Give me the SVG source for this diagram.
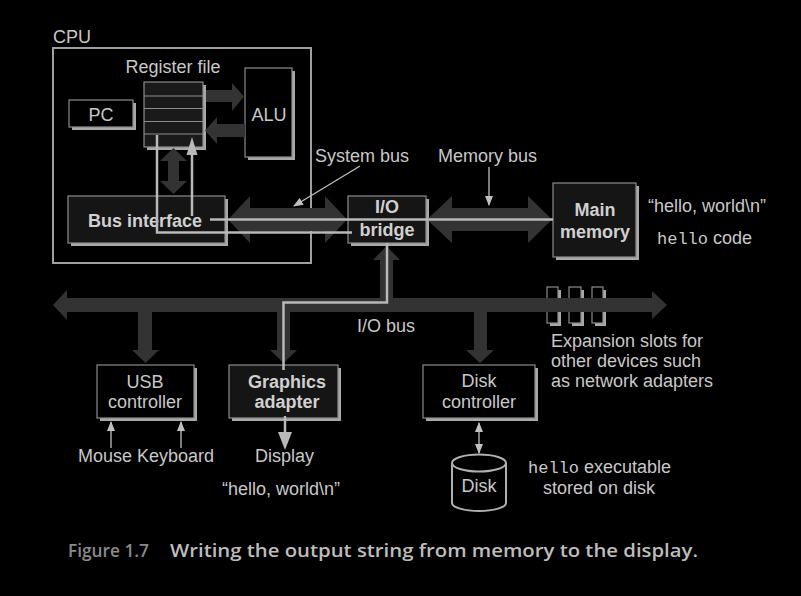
<svg xmlns="http://www.w3.org/2000/svg" width="801" height="596" viewBox="0 0 801 596">
<defs>
<style>
.t{font-family:"Liberation Sans",Arial,Helvetica,sans-serif;font-size:18px;fill:#c8c8c8}
.c{text-anchor:middle}
.b{font-weight:bold;fill:#d0d0d0}
.m{font-family:"Liberation Mono","Courier New",monospace;font-size:17px;fill:#c8c8c8}
.box{fill:#000;stroke:#8c8c8c;stroke-width:1.2}
.dbox{fill:#151515;stroke:#8c8c8c;stroke-width:1.2}
.sh{fill:#a8a8a8}
.bus{fill:#333}
.lp{fill:none;stroke:#b8b8b8;stroke-width:2.5}
.lpf{fill:#b8b8b8}
.thin{stroke:#c0c0c0;stroke-width:1.3;fill:none}
.cap{font-family:"Open Sans","Noto Sans",sans-serif;font-size:18px;font-weight:600}
</style>
<marker id="ah" markerWidth="10" markerHeight="8" refX="9" refY="4" orient="auto" markerUnits="userSpaceOnUse">
<path d="M0,0 L10,4 L0,8 Z" fill="#c0c0c0"/>
</marker>
<marker id="ahs" markerWidth="10" markerHeight="8" refX="1" refY="4" orient="auto" markerUnits="userSpaceOnUse">
<path d="M10,0 L0,4 L10,8 Z" fill="#c0c0c0"/>
</marker>
</defs>
<rect width="801" height="596" fill="#000"/>

<g id="cpu">
<rect x="53" y="48" width="258" height="215" fill="none" stroke="#a0a0a0" stroke-width="2"/>
<text class="t" x="53" y="43">CPU</text>
</g>

<g id="register-file">
<rect class="sh" x="147" y="85" width="59" height="65"/>
<rect x="144" y="82" width="59" height="65" fill="#1a1a1a" stroke="#8c8c8c" stroke-width="1.2"/>
<path d="M144,96H203M144,108.5H203M144,121.5H203M144,134H203" stroke="#8c8c8c" stroke-width="1.2"/>
<text class="t c" x="173" y="73">Register file</text>
</g>

<g id="pc">
<rect class="sh" x="72" y="103" width="64" height="27"/>
<rect class="box" x="69" y="100" width="64" height="27"/>
<text class="t c" x="101" y="121">PC</text>
</g>

<g id="alu">
<rect class="sh" x="248" y="71" width="47" height="89"/>
<rect class="box" x="245" y="68" width="47" height="89"/>
<text class="t c" x="269" y="121">ALU</text>
</g>

<g id="bus-interface">
<rect class="sh" x="71" y="199" width="157" height="47"/>
<rect class="dbox" x="68" y="196" width="157" height="47"/>
<text class="t b" x="88" y="227">Bus interface</text>
</g>

<g id="io-bridge">
<rect class="sh" x="351" y="199" width="78" height="47"/>
<rect class="dbox" x="348" y="196" width="78" height="47"/>
<text class="t b c" x="387" y="213">I/O</text>
<text class="t b c" x="387" y="236">bridge</text>
</g>

<g id="main-memory">
<rect class="sh" x="556" y="186" width="83" height="74"/>
<rect class="dbox" x="553" y="183" width="83" height="74"/>
<text class="t b c" x="595" y="216">Main</text>
<text class="t b c" x="595" y="238">memory</text>
</g>

<g id="usb-controller">
<rect class="sh" x="100" y="368" width="97" height="53"/>
<rect class="box" x="97" y="365" width="97" height="53"/>
<text class="t c" x="145" y="388">USB</text>
<text class="t c" x="145" y="408">controller</text>
</g>

<g id="graphics-adapter">
<rect class="sh" x="232" y="368" width="109" height="53"/>
<rect class="dbox" x="229" y="365" width="109" height="53"/>
<text class="t b c" x="287" y="388">Graphics</text>
<text class="t b c" x="287" y="408">adapter</text>
</g>

<g id="disk-controller">
<rect class="sh" x="426" y="368" width="112" height="53"/>
<rect class="box" x="423" y="365" width="112" height="53"/>
<text class="t c" x="479" y="387">Disk</text>
<text class="t c" x="479" y="408">controller</text>
</g>

<g id="disk">
<path d="M452,463 V503 A27,8 0 0 0 506,503 V463" fill="#000" stroke="#b0b0b0" stroke-width="2"/>
<ellipse cx="479" cy="463" rx="27" ry="8.5" fill="#000" stroke="#b0b0b0" stroke-width="2"/>
<text class="t c" x="479" y="492">Disk</text>
</g>

<g id="expansion-slots">
<rect class="sh" x="550" y="290" width="11" height="36"/>
<rect class="box" x="547" y="287" width="11" height="36"/>
<rect class="sh" x="572" y="290" width="12" height="36"/>
<rect class="box" x="569" y="287" width="12" height="36"/>
<rect class="sh" x="595" y="290" width="11" height="36"/>
<rect class="box" x="592" y="287" width="11" height="36"/>
</g>

<g id="connectors">
<!-- register file to ALU -->
<polygon class="bus" points="206,90 232,90 232,83 244,96.5 232,111 232,102 206,102"/>
<!-- ALU to register file -->
<polygon class="bus" points="245,124 217,124 217,117 205,130.5 217,144 217,137 245,137"/>
<!-- register file <-> bus interface -->
<polygon class="bus" points="173.5,148 187,161 179,161 179,181 187,181 173.5,194 160,181 168,181 168,161 160,161"/>
<!-- system bus -->
<polygon class="bus" points="228,219.5 250,196 250,208 325,208 325,196 347,219.5 325,243 325,231 250,231 250,243"/>
<!-- memory bus -->
<polygon class="bus" points="427,219.5 452,196 452,208 528,208 528,196 552,219.5 528,243 528,231 452,231 452,243"/>
<!-- I/O bus -->
<polygon class="bus" points="53,305 67,290 67,298 652,298 652,291 667,305 652,319 652,312 67,312 67,320"/>
<!-- bridge to I/O bus -->
<polygon class="bus" points="380,299 380,260 373,260 386.5,246 400,260 393,260 393,299"/>
<!-- I/O bus to USB -->
<polygon class="bus" points="138,311 152,311 152,350 159,350 145.5,363 132,350 138,350"/>
<!-- I/O bus to graphics -->
<polygon class="bus" points="277,311 290,311 290,350 297,350 283.5,363 270,350 277,350"/>
<!-- I/O bus to disk controller -->
<polygon class="bus" points="474,311 487,311 487,350 494,350 480,363 466,350 474,350"/>

<!-- thin label pointers -->
<line class="thin" x1="360" y1="166" x2="294" y2="206" marker-end="url(#ah)"/>
<line class="thin" x1="489" y1="167" x2="489" y2="205" marker-end="url(#ah)"/>
<line class="thin" x1="111" y1="448" x2="111" y2="422" marker-end="url(#ah)"/>
<line class="thin" x1="181" y1="448" x2="181" y2="422" marker-end="url(#ah)"/>
<line class="thin" x1="479" y1="423" x2="479" y2="453" marker-start="url(#ahs)" marker-end="url(#ah)"/>

<!-- data path of the output string -->
<path class="lp" d="M553,219.5 H210"/>
<path class="lp" d="M192,216 V152"/>
<polygon class="lpf" points="186.5,155 197.5,155 192,137"/>
<path class="lp" d="M157,135 V232.5 H352"/>
<path class="lp" d="M387,243 V302.5 H283.5 V370"/>
<path class="lp" d="M285,416 V434"/>
<polygon class="lpf" points="278,432 292,432 285,450"/>
</g>

<g id="labels">
<text class="t" x="315" y="162">System bus</text>
<text class="t" x="438" y="162">Memory bus</text>
<text class="t" x="648" y="212">“hello, world\n”</text>
<text x="657" y="244"><tspan class="m">hello</tspan><tspan class="t"> code</tspan></text>
<text class="t" x="357" y="332">I/O bus</text>
<text class="t" x="551" y="347">Expansion slots for</text>
<text class="t" x="551" y="367">other devices such</text>
<text class="t" x="551" y="387">as network adapters</text>
<text class="t" x="78" y="462">Mouse Keyboard</text>
<text class="t" x="255" y="462">Display</text>
<text class="t" x="222" y="495">“hello, world\n”</text>
<text x="528" y="473"><tspan class="m">hello</tspan><tspan class="t"> executable</tspan></text>
<text class="t" x="543" y="494">stored on disk</text>
</g>

<g id="caption">
<text class="cap" x="68" y="557" fill="#8a8a8a" textLength="81" lengthAdjust="spacingAndGlyphs">Figure 1.7</text>
<text class="cap" x="170" y="557" fill="#bdbdbd" textLength="528" lengthAdjust="spacingAndGlyphs">Writing the output string from memory to the display.</text>
</g>
</svg>
